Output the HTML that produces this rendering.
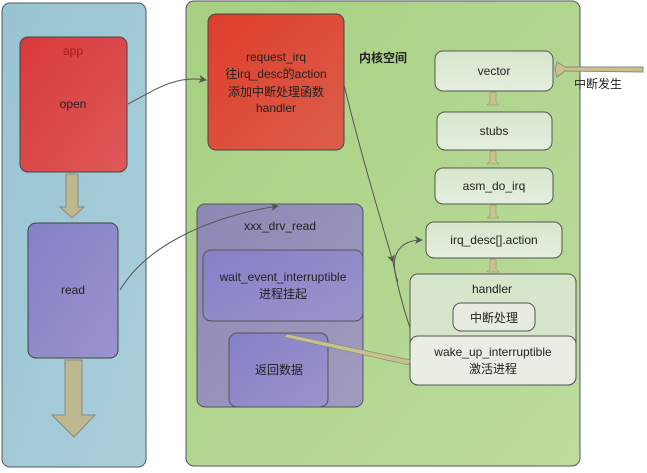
<!DOCTYPE html>
<html><head><meta charset="utf-8"><style>
html,body{margin:0;padding:0;background:#fff}
svg text{font-family:"Liberation Sans","Noto Sans CJK SC",sans-serif;font-size:12px;fill:#222;text-anchor:middle}
</style></head><body>
<svg width="647" height="468" viewBox="0 0 647 468" xmlns="http://www.w3.org/2000/svg">
<defs>
<linearGradient id="gb" x1="0" y1="0" x2="1" y2="1"><stop offset="0" stop-color="#98c4d2"/><stop offset="1" stop-color="#aacfdb"/></linearGradient>
<linearGradient id="gg" x1="0" y1="0" x2="1" y2="1"><stop offset="0" stop-color="#a7d082"/><stop offset="1" stop-color="#bcdc9c"/></linearGradient>
<linearGradient id="gr" x1="0" y1="0" x2="1" y2="1"><stop offset="0" stop-color="#d93a3c"/><stop offset="1" stop-color="#de5858"/></linearGradient>
<linearGradient id="gr2" x1="0" y1="0" x2="1" y2="1"><stop offset="0" stop-color="#de3e2a"/><stop offset="1" stop-color="#dc5e4c"/></linearGradient>
<linearGradient id="gp" x1="0" y1="0" x2="1" y2="1"><stop offset="0" stop-color="#8580c6"/><stop offset="1" stop-color="#9a94cc"/></linearGradient>
<linearGradient id="gc" x1="0" y1="0" x2="1" y2="1"><stop offset="0" stop-color="#8c88b4"/><stop offset="1" stop-color="#a09cbe"/></linearGradient>
<linearGradient id="gl" x1="0" y1="0" x2="0" y2="1"><stop offset="0" stop-color="#d8e6cc"/><stop offset="1" stop-color="#e4eede"/></linearGradient>
<marker id="ah" markerWidth="8" markerHeight="8" refX="7" refY="4" orient="auto" markerUnits="userSpaceOnUse"><path d="M0,0 L8,4 L0,8 L2,4 Z" fill="#555"/></marker>
</defs>
<rect x="2" y="3" width="144" height="464" rx="8" fill="url(#gb)" stroke="#556" stroke-width="1"/>
<rect x="186" y="1" width="394" height="465" rx="8" fill="url(#gg)" stroke="#556" stroke-width="1"/>
<rect x="20" y="37" width="107" height="135" rx="8" fill="url(#gr)" stroke="#444"/>
<text x="73" y="55" style="fill:#b01820">app</text>
<text x="73" y="108">open</text>
<path d="M66,174 h12 v33 h6 l-12,11 l-12,-11 h6 z" fill="#bdb88e" stroke="#888"/>
<rect x="28" y="223" width="90" height="135" rx="8" fill="url(#gp)" stroke="#444"/>
<text x="73" y="294">read</text>
<path d="M65,360 h17 v55 h13 l-21,22 l-22,-22 h13 z" fill="#bdb88e" stroke="#888"/>
<rect x="208" y="14" width="136" height="136" rx="8" fill="url(#gr2)" stroke="#444"/>
<text x="276" y="61">request_irq</text>
<text x="276" y="78">往irq_desc的action</text>
<text x="276" y="96">添加中断处理函数</text>
<text x="276" y="112">handler</text>
<text x="383" y="62" style="font-weight:bold;font-size:12px">内核空间</text>
<rect x="197" y="204" width="166" height="203" rx="8" fill="url(#gc)" stroke="#555"/>
<text x="280" y="230">xxx_drv_read</text>
<rect x="203" y="250" width="160" height="71" rx="8" fill="url(#gp)" stroke="#555"/>
<text x="283" y="281">wait_event_interruptible</text>
<text x="283" y="298">进程挂起</text>
<rect x="229" y="333" width="99" height="74" rx="8" fill="url(#gp)" stroke="#555"/>
<text x="279" y="374">返回数据</text>
<rect x="435" y="51" width="118" height="40" rx="8" fill="url(#gl)" stroke="#555"/>
<text x="494" y="75">vector</text>
<rect x="437" y="112" width="115" height="38" rx="8" fill="url(#gl)" stroke="#555"/>
<text x="494" y="135">stubs</text>
<rect x="435" y="168" width="118" height="36" rx="8" fill="url(#gl)" stroke="#555"/>
<text x="494" y="190">asm_do_irq</text>
<rect x="426" y="222" width="136" height="36" rx="8" fill="url(#gl)" stroke="#555"/>
<text x="494" y="244">irq_desc[].action</text>
<path d="M490,92 h6 v10 l3,3 h-12 l3,-3z M490,151 h6 v10 l3,3 h-12 l3,-3z M490,205 h6 v10 l3,3 h-12 l3,-3z M490,259 h6 v10 l3,3 h-12 l3,-3z" fill="#c9c28a" stroke="#888" stroke-width="0.5"/>
<rect x="410" y="274" width="166" height="111" rx="8" fill="#d7e5cb" stroke="#555"/>
<text x="492" y="293">handler</text>
<rect x="453" y="303" width="82" height="28" rx="8" fill="#e6ede0" stroke="#555"/>
<text x="494" y="322">中断处理</text>
<rect x="410" y="336" width="166" height="49" rx="8" fill="#e8eee4" stroke="#555"/>
<text x="493" y="356">wake_up_interruptible</text>
<text x="493" y="373">激活进程</text>
<path d="M643,67 L643,72 L565,71 L557,77 L555,69 L557,62 L565,67 Z" fill="#c9c28a" stroke="#888"/>
<text x="598" y="88" style="font-size:12px">中断发生</text>
<path d="M410,360 L287,334 L284,337 L409,365 Z" fill="#c9c28a" stroke="#888" stroke-width="0.7"/>
<g fill="none" stroke="#555" stroke-width="1">
<path d="M128,104 C155,90 175,75 206,80" marker-end="url(#ah)"/>
<path d="M120,290 C150,240 220,215 278,206" marker-end="url(#ah)"/>
<path d="M344,85 C360,150 375,200 393,262" marker-end="url(#ah)"/>
<path d="M393,262 C398,290 404,310 410,328"/>
<path d="M398,282 C388,255 400,240 422,240" marker-end="url(#ah)"/>
</g>
</svg>
</body></html>
